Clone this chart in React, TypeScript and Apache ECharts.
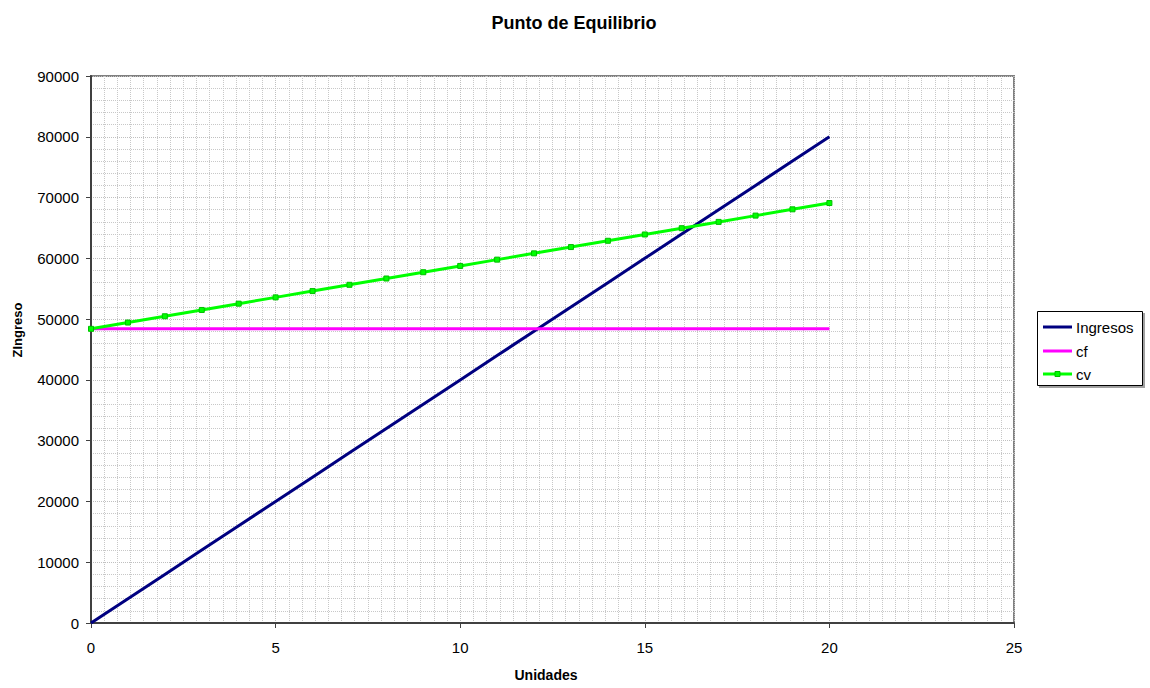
import React, { useEffect, useRef } from "react";
import * as echarts from "echarts";

const units = [0, 1, 2, 3, 4, 5, 6, 7, 8, 9, 10, 11, 12, 13, 14, 15, 16, 17, 18, 19, 20];
const ingresos = [0, 4000, 8000, 12000, 16000, 20000, 24000, 28000, 32000, 36000, 40000, 44000, 48000, 52000, 56000, 60000, 64000, 68000, 72000, 76000, 80000];
const cf = [48400, 48400, 48400, 48400, 48400, 48400, 48400, 48400, 48400, 48400, 48400, 48400, 48400, 48400, 48400, 48400, 48400, 48400, 48400, 48400, 48400];
const cv = [48400, 49435, 50470, 51505, 52540, 53575, 54610, 55645, 56680, 57715, 58750, 59785, 60820, 61855, 62890, 63925, 64960, 65995, 67030, 68065, 69100];
const seriesNames = ["Ingresos", "cf", "cv"];
const seriesColors = ["#000080", "#ff00ff", "#00ff00"];

const FONT = "Arial, 'Liberation Sans', sans-serif";

export default function App() {
  const ref = useRef<HTMLDivElement>(null);
  useEffect(() => {
    if (!ref.current) return;
    const chart = echarts.init(ref.current, null, { renderer: "svg" });
    const pairs = (ys: number[]) => units.map((u, i) => [u, ys[i]]);

    const legendTop = 311;
    const rowY = [327, 351, 374];
    const legendItems: any[] = [
      {
        type: "rect",
        shape: { x: 1039, y: legendTop + 2, width: 106, height: 75 },
        style: { fill: "#a0a0a0" },
        z: 10,
      },
      {
        type: "rect",
        shape: { x: 1037.5, y: legendTop + 0.5, width: 105, height: 74 },
        style: { fill: "#fff", stroke: "#000", lineWidth: 1 },
        z: 11,
      },
    ];
    seriesNames.forEach((name, i) => {
      legendItems.push({
        type: "line",
        shape: { x1: 1043, y1: rowY[i], x2: 1072, y2: rowY[i] },
        style: { stroke: seriesColors[i], lineWidth: 3 },
        z: 12,
      });
      if (i === 2) {
        legendItems.push({
          type: "rect",
          shape: { x: 1055, y: rowY[i] - 2.5, width: 5, height: 5 },
          style: { fill: seriesColors[i], stroke: "#00c000", lineWidth: 1 },
          z: 13,
        });
      }
      legendItems.push({
        type: "text",
        x: 1076,
        y: rowY[i],
        style: {
          text: name,
          fontSize: 15,
          fontFamily: FONT,
          fill: "#000",
          verticalAlign: "middle",
          align: "left",
        },
        z: 12,
      });
    });

    chart.setOption({
      animation: false,
      backgroundColor: "#ffffff",
      textStyle: { fontFamily: FONT },
      title: {
        text: "Punto de Equilibrio",
        left: 569,
        top: 9,
        textAlign: "center",
        textStyle: { fontSize: 18, fontWeight: "bold", color: "#000", fontFamily: FONT },
      },
      graphic: [
        {
          type: "text",
          x: 17,
          y: 330,
          rotation: Math.PI / 2,
          style: {
            text: "ZIngreso",
            fontSize: 13,
            fontWeight: "bold",
            fontFamily: FONT,
            fill: "#000",
            align: "center",
            verticalAlign: "middle",
          },
        },
        {
          type: "text",
          x: 546,
          y: 675,
          style: {
            text: "Unidades",
            fontSize: 14,
            fontWeight: "bold",
            fontFamily: FONT,
            fill: "#000",
            align: "center",
            verticalAlign: "middle",
          },
        },
        ...legendItems,
      ],
      grid: {
        left: 91,
        top: 76,
        right: 136,
        bottom: 65,
        show: true,
        borderColor: "#808080",
        borderWidth: 2,
        backgroundColor: "#fff",
      },
      xAxis: {
        type: "value",
        min: 0,
        max: 25,
        interval: 5,
        axisLine: { show: true, lineStyle: { color: "#404040", width: 2 } },
        axisTick: { show: true, length: 5, lineStyle: { color: "#404040", width: 1 } },
        axisLabel: { fontSize: 15, color: "#000", margin: 17, fontFamily: FONT },
        splitLine: { show: true, lineStyle: { color: "#c0c0c0", type: "dotted", width: 1 } },
        minorTick: { show: false, splitNumber: 14 },
        minorSplitLine: { show: true, lineStyle: { color: "#c8c8c8", type: "dotted", width: 1 } },
      },
      yAxis: {
        type: "value",
        min: 0,
        max: 90000,
        interval: 10000,
        axisLine: { show: true, lineStyle: { color: "#404040", width: 2 } },
        axisTick: { show: true, length: 5, lineStyle: { color: "#404040", width: 1 } },
        axisLabel: {
          fontSize: 15,
          color: "#000",
          margin: 12,
          fontFamily: FONT,
          formatter: (v: number) => String(v),
        },
        splitLine: { show: true, lineStyle: { color: "#c0c0c0", type: "dotted", width: 1 } },
        minorTick: { show: false, splitNumber: 5 },
        minorSplitLine: { show: true, lineStyle: { color: "#c8c8c8", type: "dotted", width: 1 } },
      },
      series: [
        {
          name: seriesNames[0],
          type: "line",
          data: pairs(ingresos),
          showSymbol: false,
          symbol: "none",
          lineStyle: { color: seriesColors[0], width: 3 },
          itemStyle: { color: seriesColors[0] },
        },
        {
          name: seriesNames[1],
          type: "line",
          data: pairs(cf),
          showSymbol: false,
          symbol: "none",
          lineStyle: { color: seriesColors[1], width: 3 },
          itemStyle: { color: seriesColors[1] },
        },
        {
          name: seriesNames[2],
          type: "line",
          data: pairs(cv),
          symbol: "rect",
          symbolSize: 5,
          lineStyle: { color: seriesColors[2], width: 3 },
          itemStyle: { color: seriesColors[2], borderColor: "#00c000", borderWidth: 1 },
        },
      ],
    });
    return () => chart.dispose();
  }, []);
  return (
    <div
      ref={ref}
      style={{ position: "fixed", left: 0, top: 0, width: 1150, height: 688 }}
    />
  );
}
